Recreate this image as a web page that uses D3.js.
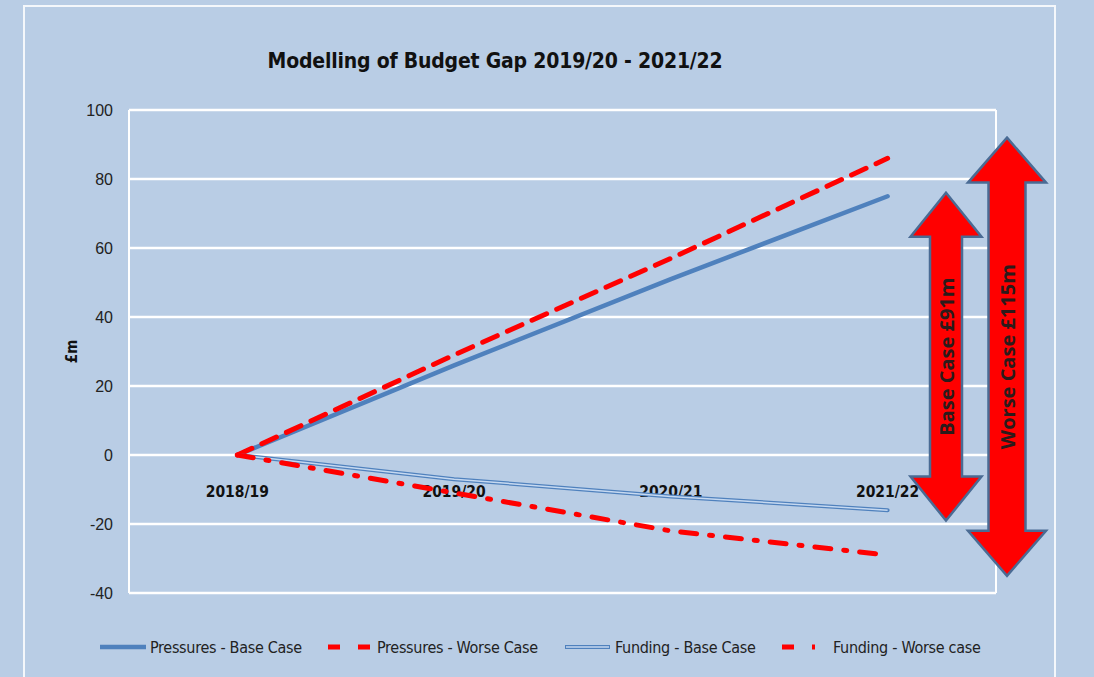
<!DOCTYPE html>
<html>
<head>
<meta charset="utf-8">
<script src="https://cdn.jsdelivr.net/npm/d3@7"></script>
<style>
  body { margin: 0; background: #b9cde5; }
  svg { display: block; font-family: "Liberation Sans Narrow", "DejaVu Sans Condensed", "Open Sans", sans-serif; }
</style>
</head>
<body>
<svg id="chart"></svg>
<script>
var categories = ["2018/19", "2019/20", "2020/21", "2021/22"];
var pressuresBase = [0, 26, 51, 75];
var pressuresWorse = [0, 29, 57, 86];
var fundingBase = [0, -7, -12, -16];
var fundingWorse = [0, -11, -22, -29];
var yTicks = [-40, -20, 0, 20, 40, 60, 80, 100];

// gap annotations (arrows on the right)
var gapLabels = ["Base Case £91m", "Worse Case £115m"];
var gapTop = [76, 92];
var gapBottom = [-19, -35];

var width = 1094, height = 677;
var plot = { left: 129, right: 996, top: 110, bottom: 593 };

var svg = d3.select("#chart")
    .attr("width", width)
    .attr("height", height);

// outer chart frame
svg.append("path")
    .attr("d", "M24," + height + "V6H1055V" + height)
    .attr("fill", "none")
    .attr("stroke", "#f4f7fb")
    .attr("stroke-width", 2);

var x = d3.scalePoint()
    .domain(categories)
    .range([plot.left, plot.right])
    .padding(0.5);

var y = d3.scaleLinear()
    .domain([-40, 100])
    .range([plot.bottom, plot.top]);

// gridlines
svg.append("g")
    .selectAll("line")
    .data(yTicks)
    .enter().append("line")
    .attr("x1", plot.left)
    .attr("x2", plot.right)
    .attr("y1", function (d) { return y(d); })
    .attr("y2", function (d) { return y(d); })
    .attr("stroke", "#ffffff")
    .attr("stroke-width", 2.5);

svg.append("line")
    .attr("x1", plot.left).attr("x2", plot.left)
    .attr("y1", plot.top).attr("y2", plot.bottom)
    .attr("stroke", "#ffffff").attr("stroke-width", 2);
svg.append("line")
    .attr("x1", plot.right).attr("x2", plot.right)
    .attr("y1", plot.top).attr("y2", plot.bottom)
    .attr("stroke", "#ffffff").attr("stroke-width", 2);

// y axis labels
var yAxis = d3.axisLeft(y)
    .tickValues(yTicks)
    .tickFormat(function (d) { return String(d); })
    .tickSize(0)
    .tickPadding(16);

var yG = svg.append("g")
    .attr("transform", "translate(" + plot.left + ",0)")
    .call(yAxis);
yG.select(".domain").remove();
yG.selectAll("text")
    .attr("font-size", 16)
    .attr("fill", "#222")
    .style("font-family", "inherit");

svg.append("text")
    .attr("transform", "translate(77," + y(30) + ") rotate(-90)")
    .attr("text-anchor", "middle")
    .attr("font-weight", "bold")
    .attr("font-size", 15)
    .attr("fill", "#111")
    .text("£m");

// category labels next to the zero line
svg.append("g")
    .selectAll("text")
    .data(categories)
    .enter().append("text")
    .attr("x", function (d) { return x(d); })
    .attr("y", y(0) + 42)
    .attr("text-anchor", "middle")
    .attr("font-weight", "bold")
    .attr("font-size", 15.5)
    .attr("fill", "#111")
    .text(function (d) { return d; });

// title
svg.append("text")
    .attr("x", 495)
    .attr("y", 68)
    .attr("text-anchor", "middle")
    .attr("font-weight", "bold")
    .attr("font-size", 21)
    .attr("letter-spacing", -0.2)
    .attr("fill", "#111")
    .text("Modelling of Budget Gap 2019/20 - 2021/22");

// --------------------------------------------------------------------------

var line = d3.line()
    .x(function (d, i) { return x(categories[i]); })
    .y(function (d) { return y(d); });

var series = [
    { name: "Pressures - Base Case", values: pressuresBase, color: "#4f81bd", width: 4.5, dash: null },
    { name: "Pressures - Worse Case", values: pressuresWorse, color: "#ff0000", width: 5, dash: "16,11" },
    { name: "Funding - Base Case", values: fundingBase, color: "#4f81bd", width: 4, dash: null, inner: "#c6d9f1" },
    { name: "Funding - Worse case", values: fundingWorse, color: "#ff0000", width: 5, dash: "16,13,3,13" }
];

series.forEach(function (s) {
    svg.append("path")
        .attr("d", line(s.values))
        .attr("fill", "none")
        .attr("stroke", s.color)
        .attr("stroke-width", s.width)
        .attr("stroke-dasharray", s.dash)
        .attr("stroke-linecap", "round")
        .attr("stroke-linejoin", "round");
    if (s.inner) {
        svg.append("path")
            .attr("d", line(s.values))
            .attr("fill", "none")
            .attr("stroke", s.inner)
            .attr("stroke-width", 1.5);
    }
});

// --------------------------------------------------------------------------
// double-headed gap arrows

var arrowX = [946, 1007];
var shaftHalf = [16, 18.5];
var headHalf = [35.5, 39];
var headLen = [44, 45];

gapLabels.forEach(function (label, i) {
    var cx = arrowX[i], t = y(gapTop[i]), b = y(gapBottom[i]);
    var s = shaftHalf[i], h = headHalf[i], hl = headLen[i];
    var pts = [
        [cx, t], [cx + h, t + hl], [cx + s, t + hl], [cx + s, b - hl], [cx + h, b - hl],
        [cx, b], [cx - h, b - hl], [cx - s, b - hl], [cx - s, t + hl], [cx - h, t + hl]
    ];
    svg.append("path")
        .attr("d", "M" + pts.join("L") + "Z")
        .attr("fill", "#ff0000")
        .attr("stroke", "#4a6b94")
        .attr("stroke-width", 2.5)
        .attr("stroke-linejoin", "miter");
    svg.append("text")
        .attr("transform", "translate(" + (cx + 1) + "," + ((t + b) / 2) + ") rotate(-90)")
        .attr("text-anchor", "middle")
        .attr("dy", "0.35em")
        .attr("font-weight", "bold")
        .attr("font-size", 20)
        .attr("fill", "#2b1b1b")
        .style("font-family", "'Open Sans', 'DejaVu Sans', sans-serif")
        .text(label);
});

// --------------------------------------------------------------------------
// legend

var legendX = [100, 328, 565, 782];
var legendTextX = [150, 377, 615, 833];
var legendSampleW = [46, 42, 45, 33];
var legendY = 647;

series.forEach(function (s, i) {
    var g = svg.append("g");
    var x0 = legendX[i], x1 = legendX[i] + legendSampleW[i];
    g.append("line")
        .attr("x1", x0).attr("x2", x1)
        .attr("y1", legendY).attr("y2", legendY)
        .attr("stroke", s.color)
        .attr("stroke-width", s.width)
        .attr("stroke-dasharray", s.dash ? (i === 1 ? "12,18" : "12,18,3,100") : null);
    if (s.inner) {
        g.append("line")
            .attr("x1", x0 + 1).attr("x2", x1 - 1)
            .attr("y1", legendY).attr("y2", legendY)
            .attr("stroke", s.inner)
            .attr("stroke-width", 1.5);
    }
    g.append("text")
        .attr("x", legendTextX[i])
        .attr("y", legendY)
        .attr("dy", "0.35em")
        .attr("font-size", 16)
        .attr("letter-spacing", -0.3)
        .attr("fill", "#222")
        .text(s.name);
});
</script>
</body>
</html>
